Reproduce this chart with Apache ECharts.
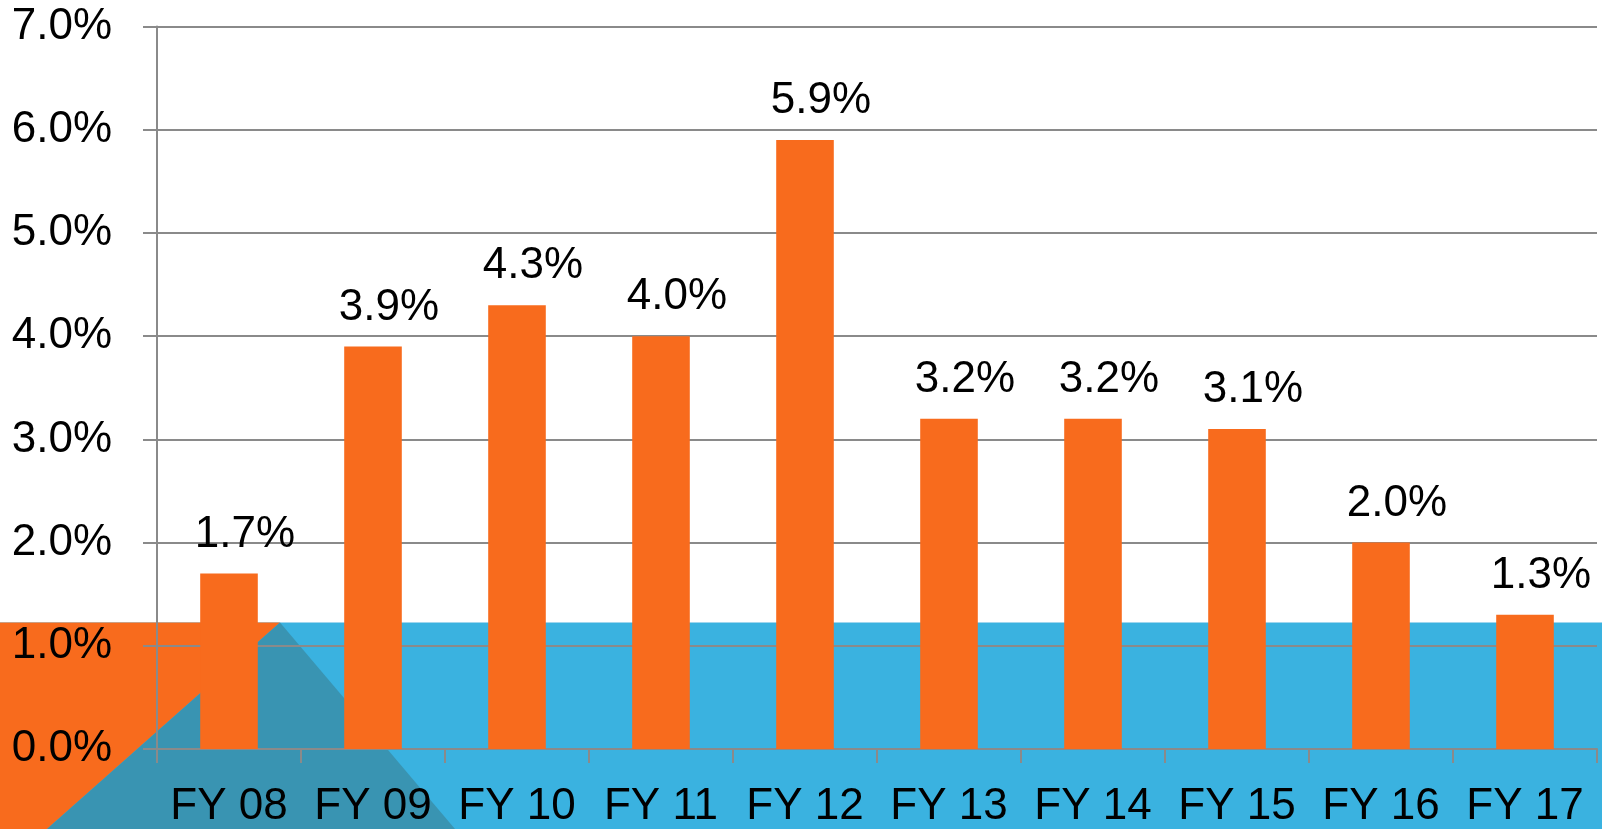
<!DOCTYPE html>
<html>
<head>
<meta charset="utf-8">
<script src="https://cdn.jsdelivr.net/npm/echarts@6/dist/echarts.min.js"></script>
<style>
html,body{margin:0;padding:0;background:#fff;}
#chart{width:1602px;height:829px;}
</style>
</head>
<body>
<div id="chart"></div>
<script>
const categories = ['FY 08','FY 09','FY 10','FY 11','FY 12','FY 13','FY 14','FY 15','FY 16','FY 17'];
const values = [1.7, 3.9, 4.3, 4.0, 5.9, 3.2, 3.2, 3.1, 2.0, 1.3];
const yTicks = [0, 1, 2, 3, 4, 5, 6, 7];

const ORANGE = '#F86B1D';
const BLUE = '#3AB2E0';
const TEAL = '#3994B2';
const GRID = '#8a8a8a';
const FONT = '"Liberation Sans", Arial, sans-serif';

const chart = echarts.init(document.getElementById('chart'), null, {renderer: 'canvas'});
chart.setOption({
  animation: false,
  backgroundColor: '#ffffff',
  graphic: [
    {type: 'rect', z: -10, shape: {x: 0, y: 622.5, width: 1602, height: 210}, style: {fill: BLUE}},
    {type: 'line', z: -9, shape: {x1: 0, y1: 622.5, x2: 1602, y2: 622.5}, style: {stroke: '#9fd6ee', lineWidth: 1}},
    {type: 'polygon', z: -8, shape: {points: [[0, 622.5], [280, 622.5], [47, 829], [0, 829]]}, style: {fill: ORANGE}},
    {type: 'polygon', z: -8, shape: {points: [[280, 622.5], [455, 829], [47, 829]]}, style: {fill: TEAL}}
  ],
  grid: {left: 157, right: 5, top: 26.6, bottom: 80, containLabel: false},
  xAxis: {
    type: 'category',
    data: categories,
    axisLine: {show: true, lineStyle: {color: GRID, width: 2}},
    axisTick: {show: true, interval: 0, length: 14, lineStyle: {color: GRID, width: 2}},
    axisLabel: {interval: 0, color: '#000', fontSize: 44, fontFamily: FONT, margin: 36}
  },
  yAxis: {
    type: 'value',
    min: 0, max: 7, interval: 1,
    axisLine: {show: true, lineStyle: {color: GRID, width: 2}},
    axisTick: {show: true, length: 14, lineStyle: {color: GRID, width: 2}},
    splitLine: {show: true, lineStyle: {color: GRID, width: 2}},
    axisLabel: {
      color: '#000', fontSize: 44, fontFamily: FONT, margin: 45,
      formatter: v => yTicks.includes(v) ? v.toFixed(1) + '%' : ''
    }
  },
  series: [{
    type: 'bar',
    data: values,
    barWidth: '40%',
    itemStyle: {color: ORANGE},
    label: {
      show: true, position: 'top', distance: 17, offset: [16, 0],
      color: '#000', fontSize: 44, fontFamily: FONT,
      formatter: p => p.value.toFixed(1) + '%'
    }
  }]
});
</script>
</body>
</html>
